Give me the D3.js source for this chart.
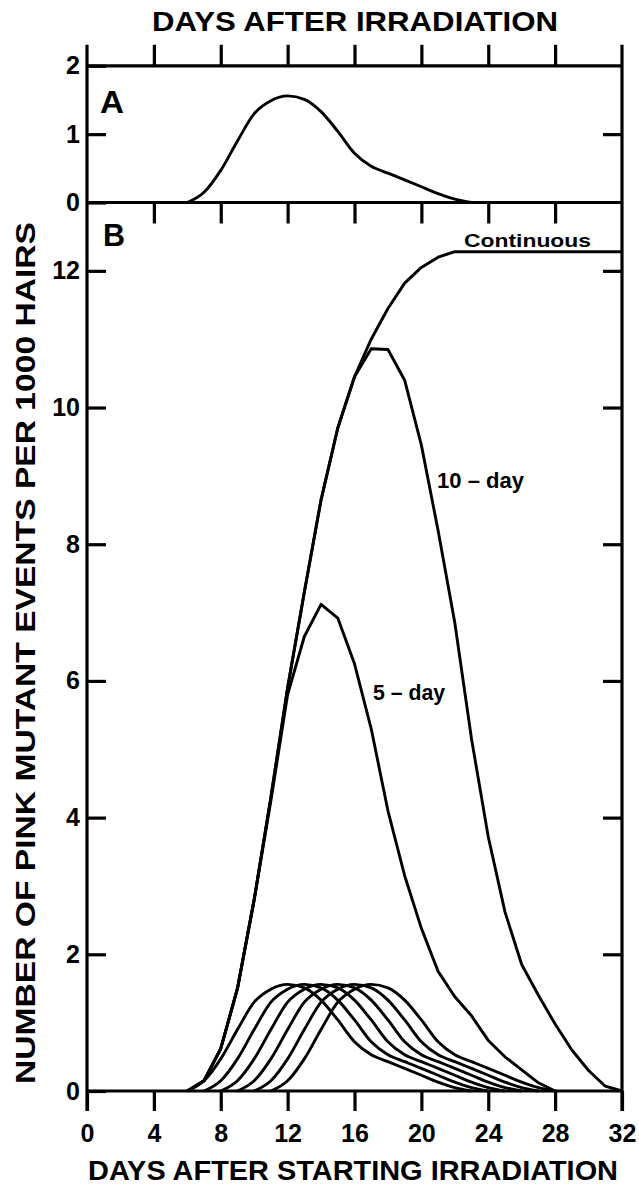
<!DOCTYPE html>
<html><head><meta charset="utf-8">
<script src="https://cdn.jsdelivr.net/npm/d3@7"></script>
<style>body{margin:0;background:#fff}svg{display:block}</style>
</head><body>
<svg id="chart" width="639" height="1195"></svg>
<script>
// ---------------- data ----------------
const tickDays = [0, 4, 8, 12, 16, 20, 24, 28, 32];
const innerTickDays = [4, 8, 12, 16, 20, 24, 28];
const yTicksA = [0, 1, 2];
const yTicksB = [0, 2, 4, 6, 8, 10, 12];

// Panel A: single irradiation response (days after irradiation)
const panelADays   = [6, 7, 8, 9, 10, 11, 12, 13, 14, 15, 16, 17, 18, 19, 20, 21, 22, 23];
const panelAValues = [0, 0.15, 0.47, 0.9, 1.3, 1.49, 1.56, 1.51, 1.33, 1.04, 0.72, 0.53, 0.43, 0.33, 0.23, 0.13, 0.05, 0];

// Panel B: individual daily pulses (start day, values per following day)
const pulseStarts = [6, 7, 8, 9, 10, 11];
const pulse1 = [0, 0.15, 0.47, 0.9, 1.3, 1.49, 1.56, 1.51, 1.33, 1.04, 0.72, 0.53, 0.43, 0.33, 0.23, 0.13, 0.05, 0];
const pulse2 = [0, 0.15, 0.47, 0.9, 1.3, 1.49, 1.56, 1.51, 1.33, 1.04, 0.72, 0.53, 0.43, 0.33, 0.23, 0.13, 0.05, 0];
const pulse3 = [0, 0.15, 0.47, 0.9, 1.3, 1.49, 1.56, 1.51, 1.33, 1.04, 0.72, 0.53, 0.43, 0.33, 0.23, 0.13, 0.05, 0];
const pulse4 = [0, 0.15, 0.47, 0.9, 1.3, 1.49, 1.56, 1.51, 1.33, 1.04, 0.72, 0.53, 0.43, 0.33, 0.23, 0.13, 0.05, 0];
const pulse5 = [0, 0.15, 0.47, 0.9, 1.3, 1.49, 1.56, 1.51, 1.33, 1.04, 0.72, 0.53, 0.43, 0.33, 0.23, 0.13, 0.05, 0];
const pulse6 = [0, 0.15, 0.47, 0.9, 1.3, 1.49, 1.56, 1.51, 1.33, 1.04, 0.72, 0.53, 0.43, 0.33, 0.23, 0.13, 0.05, 0];

// Panel B: cumulative responses (days after starting irradiation)
const days = [6, 7, 8, 9, 10, 11, 12, 13, 14, 15, 16, 17, 18, 19, 20, 21, 22, 23, 24, 25, 26, 27, 28, 29, 30, 31, 32];
const continuous = [0, 0.15, 0.62, 1.5, 2.8, 4.3, 5.9, 7.3, 8.65, 9.7, 10.45, 11.0, 11.45, 11.82, 12.05, 12.2, 12.28,
                    12.28, 12.28, 12.28, 12.28, 12.28, 12.28, 12.28, 12.28, 12.28, 12.28];
const tenDay     = [0, 0.15, 0.62, 1.5, 2.8, 4.3, 5.9, 7.3, 8.65, 9.7, 10.45, 10.86, 10.85, 10.4, 9.45, 8.2, 6.85,
                    5.15, 3.72, 2.62, 1.85, 1.4, 0.98, 0.6, 0.3, 0.07, 0];
const fiveDay    = [0, 0.15, 0.62, 1.5, 2.8, 4.25, 5.8, 6.65, 7.12, 6.92, 6.25, 5.3, 4.1, 3.15, 2.38, 1.75, 1.38,
                    1.1, 0.74, 0.5, 0.31, 0.12, 0, null, null, null, null];

// ---------------- layout ----------------
const svg = d3.select('#chart');
const FONT = '"Liberation Sans", Arial, sans-serif';
const x  = d3.scaleLinear().domain([0, 32]).range([87, 622]);
const yB = d3.scaleLinear().domain([0, 13]).range([1091, 202.5]);
const yA = d3.scaleLinear().domain([0, 2]).range([202.5, 65.8]);
const AX = 3.2, TK = 3.2, LW = 2.9;

function styleAxis(g, fs) {
  g.select('.domain').remove();
  g.selectAll('.tick line').attr('stroke', '#000').attr('stroke-width', TK);
  g.selectAll('.tick text').attr('fill', '#000').attr('font-family', FONT)
    .attr('font-weight', 'bold').attr('font-size', fs);
}

// frame lines
const frame = svg.append('g').attr('stroke', '#000').attr('stroke-width', AX).attr('fill', 'none');
frame.append('line').attr('x1', x(0)).attr('x2', x(0)).attr('y1', yA(2) - 21).attr('y2', yB(0) + 20);
frame.append('line').attr('x1', x(32)).attr('x2', x(32)).attr('y1', yA(2) - 21).attr('y2', yB(0) + 20);
frame.append('line').attr('x1', x(0)).attr('x2', x(32)).attr('y1', yA(2)).attr('y2', yA(2));
frame.append('line').attr('x1', x(0)).attr('x2', x(32)).attr('y1', yA(0)).attr('y2', yA(0));
frame.append('line').attr('x1', x(0)).attr('x2', x(32)).attr('y1', yB(0)).attr('y2', yB(0));

// top of A: ticks outward (up)
svg.append('g').attr('transform', `translate(0,${yA(2)})`)
  .call(d3.axisTop(x).tickValues(innerTickDays).tickSize(21).tickFormat(''))
  .call(g => styleAxis(g, 0));
// top of B: ticks inward (down)
svg.append('g').attr('transform', `translate(0,${yA(0)})`)
  .call(d3.axisBottom(x).tickValues(innerTickDays).tickSize(21).tickFormat(''))
  .call(g => styleAxis(g, 0));
// bottom of B
svg.append('g').attr('transform', `translate(0,${yB(0)})`)
  .call(d3.axisBottom(x).tickValues(tickDays).tickSize(20).tickPadding(13).tickFormat(d3.format('d')))
  .call(g => styleAxis(g, 25));

// y axes A
svg.append('g').attr('transform', `translate(${x(0)},0)`)
  .call(d3.axisLeft(yA).tickValues(yTicksA).tickSize(-19).tickPadding(7).tickFormat(d3.format('d')))
  .call(g => styleAxis(g, 25));
svg.append('g').attr('transform', `translate(${x(32)},0)`)
  .call(d3.axisRight(yA).tickValues([1]).tickSize(-19).tickFormat(''))
  .call(g => styleAxis(g, 0));
// y axes B
svg.append('g').attr('transform', `translate(${x(0)},0)`)
  .call(d3.axisLeft(yB).tickValues(yTicksB).tickSize(-19).tickPadding(7).tickFormat(d3.format('d')))
  .call(g => styleAxis(g, 25));
svg.append('g').attr('transform', `translate(${x(32)},0)`)
  .call(d3.axisRight(yB).tickValues(yTicksB.slice(1)).tickSize(-19).tickFormat(''))
  .call(g => styleAxis(g, 0));

// ---------------- curves ----------------
const lineA = d3.line().defined(d => d[1] != null).x(d => x(d[0])).y(d => yA(d[1])).curve(d3.curveMonotoneX);
svg.append('path').datum(panelADays.map((d, i) => [d, panelAValues[i]]))
  .attr('d', lineA).attr('fill', 'none').attr('stroke', '#000').attr('stroke-width', LW);

const lineBs = d3.line().defined(d => d[1] != null).x(d => x(d[0])).y(d => yB(d[1])).curve(d3.curveMonotoneX);
[pulse1, pulse2, pulse3, pulse4, pulse5, pulse6].forEach((vals, k) => {
  svg.append('path').datum(vals.map((v, i) => [pulseStarts[k] + i, v]))
    .attr('d', lineBs).attr('fill', 'none').attr('stroke', '#000').attr('stroke-width', LW)
    .attr('stroke-linejoin', 'round');
});

const lineB = d3.line().defined(d => d[1] != null).x(d => x(d[0])).y(d => yB(d[1]));
[continuous, tenDay, fiveDay].forEach(vals => {
  svg.append('path').datum(days.map((d, i) => [d, vals[i]]))
    .attr('d', lineB).attr('fill', 'none').attr('stroke', '#000').attr('stroke-width', LW)
    .attr('stroke-linejoin', 'round');
});

// ---------------- text ----------------
function txt(t, xx, yy, fs, opts = {}) {
  const e = svg.append('text').attr('x', xx).attr('y', yy).text(t)
    .attr('font-family', FONT).attr('font-weight', 'bold').attr('font-size', fs)
    .attr('fill', '#000').attr('text-anchor', opts.anchor || 'start');
  if (opts.len) e.attr('textLength', opts.len).attr('lengthAdjust', 'spacingAndGlyphs');
  if (opts.rot) e.attr('transform', `rotate(-90,${xx},${yy})`);
  return e;
}
txt('DAYS AFTER IRRADIATION', 355, 31, 28, {anchor: 'middle', len: 406});
txt('DAYS AFTER STARTING IRRADIATION', 353, 1180, 28, {anchor: 'middle', len: 530});
txt('NUMBER OF PINK MUTANT EVENTS PER 1000 HAIRS', 35, 653, 27, {anchor: 'middle', len: 862, rot: true});
txt('A', 100, 113, 32, {len: 24});
txt('B', 103, 246, 32, {len: 22});
txt('Continuous', 464, 247, 19, {len: 127});
txt('10 – day', 437, 488, 22, {len: 87});
txt('5 – day', 373, 700, 22, {len: 72});
</script>
</body></html>
